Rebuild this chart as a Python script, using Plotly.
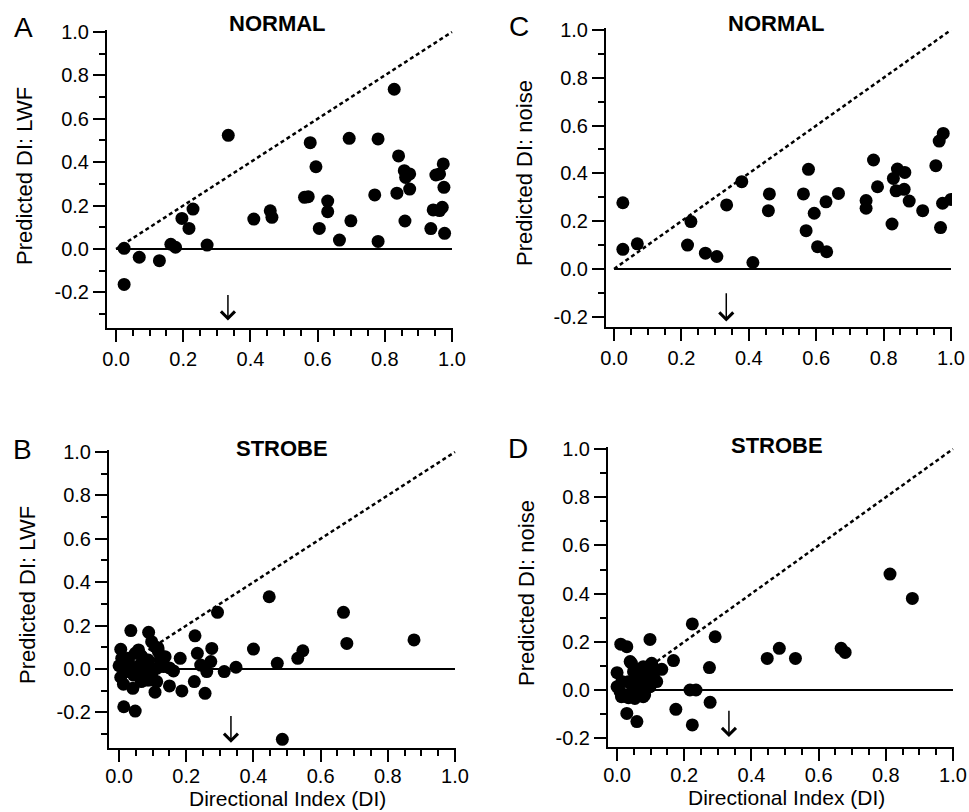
import plotly.graph_objects as go

# ---------------- data ----------------
# Panel A: NORMAL, Predicted DI: LWF
a_x = [0.024, 0.024, 0.069, 0.129, 0.163, 0.177, 0.196, 0.217, 0.229, 0.271, 0.334,
       0.410, 0.459, 0.464, 0.561, 0.572, 0.578, 0.595, 0.605, 0.630, 0.630, 0.665,
       0.694, 0.699, 0.770, 0.780, 0.780, 0.828, 0.836, 0.841, 0.858, 0.862, 0.874,
       0.874, 0.860, 0.937, 0.944, 0.952, 0.963, 0.974, 0.976, 0.971, 0.963, 0.978]
a_y = [0.003, -0.163, -0.038, -0.054, 0.022, 0.008, 0.141, 0.095, 0.184, 0.018, 0.524,
       0.138, 0.176, 0.146, 0.238, 0.241, 0.490, 0.379, 0.095, 0.221, 0.172, 0.041,
       0.510, 0.130, 0.249, 0.507, 0.035, 0.736, 0.257, 0.429, 0.361, 0.330, 0.346,
       0.276, 0.129, 0.094, 0.180, 0.341, 0.346, 0.392, 0.284, 0.192, 0.177, 0.072]

# Panel C: NORMAL, Predicted DI: noise
c_x = [0.026, 0.026, 0.069, 0.218, 0.228, 0.271, 0.305, 0.334, 0.379, 0.412, 0.461,
       0.458, 0.562, 0.570, 0.577, 0.594, 0.604, 0.631, 0.629, 0.666, 0.748, 0.748,
       0.770, 0.782, 0.825, 0.829, 0.837, 0.841, 0.861, 0.863, 0.876, 0.916, 0.955,
       0.965, 0.977, 0.969, 0.975, 1.000]
c_y = [0.277, 0.082, 0.105, 0.100, 0.198, 0.066, 0.052, 0.268, 0.365, 0.027, 0.314,
       0.244, 0.314, 0.160, 0.417, 0.233, 0.093, 0.072, 0.281, 0.316, 0.286, 0.254,
       0.456, 0.344, 0.188, 0.379, 0.327, 0.418, 0.333, 0.404, 0.284, 0.244, 0.432,
       0.535, 0.567, 0.173, 0.275, 0.291]

# Panel B: STROBE, Predicted DI: LWF
b_x = [0.035, 0.088, 0.005, 0.000, 0.014, 0.048, 0.041, 0.013, 0.005, 0.107, 0.150,
       0.187, 0.182, 0.162, 0.226, 0.233, 0.224, 0.256, 0.243, 0.261, 0.273, 0.276,
       0.293, 0.313, 0.348, 0.400, 0.447, 0.471, 0.486, 0.532, 0.547, 0.668, 0.678,
       0.878,
       0.048, 0.058, 0.068, 0.028, 0.038, 0.053, 0.062, 0.072, 0.082, 0.097, 0.087,
       0.097, 0.107, 0.117, 0.122, 0.137, 0.132, 0.112, 0.018, 0.043, 0.112, 0.008,
       0.102, 0.116, 0.131, 0.066, 0.076, 0.027, 0.027, 0.086, 0.091, 0.150]
b_y = [0.177, 0.169, 0.091, 0.015, -0.174, -0.194, -0.089, -0.070, -0.038, -0.107, -0.078,
       -0.101, 0.049, -0.009, 0.153, 0.072, -0.058, -0.112, 0.018, -0.012, 0.034, 0.095,
       0.261, -0.012, 0.008, 0.092, 0.333, 0.026, -0.324, 0.049, 0.084, 0.261, 0.118,
       0.134,
       0.072, 0.088, 0.057, 0.034, 0.003, -0.005, 0.018, -0.020, -0.051, -0.035, 0.041,
       0.126, 0.103, 0.080, 0.041, 0.057, 0.011, 0.003, 0.011, -0.028, -0.058, 0.049,
       -0.005, 0.097, 0.050, -0.058, -0.012, -0.012, 0.049, 0.034, -0.051, 0.005]

# Panel D: STROBE, Predicted DI: noise
d_x = [0.011, 0.029, 0.000, 0.000, 0.029, 0.059, 0.039, 0.098, 0.224, 0.292, 0.168,
       0.133, 0.275, 0.217, 0.235, 0.175, 0.277, 0.224, 0.447, 0.483, 0.531, 0.667,
       0.679, 0.8125, 0.879,
       0.009, 0.019, 0.034, 0.044, 0.054, 0.063, 0.068, 0.078, 0.083, 0.088, 0.093,
       0.103, 0.108, 0.118, 0.118, 0.049, 0.059, 0.068, 0.078, 0.073, 0.098, 0.014,
       0.043, 0.013, 0.053, 0.082, 0.102, 0.033]
d_y = [0.190, 0.180, 0.072, 0.014, -0.097, -0.131, 0.118, 0.210, 0.274, 0.221, 0.122,
       0.086, 0.093, 0.000, 0.000, -0.080, -0.051, -0.145, 0.131, 0.173, 0.131, 0.173,
       0.156, 0.481, 0.380,
       -0.007, -0.025, -0.032, -0.007, 0.014, 0.041, 0.014, -0.028, 0.055, 0.028, 0.076,
       0.111, 0.055, 0.035, 0.083, 0.076, 0.055, 0.083, 0.097, 0.021, 0.014, 0.035,
       0.111, -0.028, -0.035, -0.021, 0.104, 0.034]

# reference lines (zero line and unity line)
ref_x = [0.0, 1.0]
zero_y = [0.0, 0.0]
unity_y = [0.0, 1.0]

# arrow marking DI = 1/3 (head y, tail y) per panel
arrow_x = 0.333
arrow_head = {"A": -0.33, "C": -0.22, "B": -0.34, "D": -0.195}
arrow_tail = {"A": -0.205, "C": -0.095, "B": -0.21, "D": -0.08}

x_tickvals = [0.0, 0.2, 0.4, 0.6, 0.8, 1.0]
x_ticktext = ["0.0", "0.2", "0.4", "0.6", "0.8", "1.0"]
y_tickvals = [-0.2, 0.0, 0.2, 0.4, 0.6, 0.8, 1.0]
y_ticktext = ["-0.2", "0.0", "0.2", "0.4", "0.6", "0.8", "1.0"]

panel_titles = {"A": "NORMAL", "C": "NORMAL", "B": "STROBE", "D": "STROBE"}
y_titles = {"A": "Predicted DI: LWF", "C": "Predicted DI: noise",
            "B": "Predicted DI: LWF", "D": "Predicted DI: noise"}
x_title = "Directional Index (DI)"

# ---------------- figure ----------------
W, H = 969, 812
FONT = "Liberation Sans, Arial, Helvetica, sans-serif"

fig = go.Figure()

panels = [
    # key, axis suffix, data, x-domain px, y-domain px (top, bottom), xrange, yrange, label standoff
    ("A", "", a_x, a_y, (107, 453), (29.8, 328), [-0.027, 1.003], [-0.364, 1.01], 0),
    ("C", "2", c_x, c_y, (606, 952), (27.6, 327), [-0.024, 1.003], [-0.243, 1.01], 0),
    ("B", "3", b_x, b_y, (109, 456), (449.8, 748), [-0.030, 1.003], [-0.364, 1.01], -3),
    ("D", "4", d_x, d_y, (608, 954), (446.6, 747), [-0.027, 1.003], [-0.2365, 1.01], -3),
]

annotations = []
layout_axes = {}
for key, sfx, xs, ys, xd, yd, xr, yr, so in panels:
    xa = "x" + sfx
    ya = "y" + sfx
    fig.add_trace(go.Scatter(x=ref_x, y=zero_y, mode="lines",
                             line=dict(color="black", width=2),
                             xaxis=xa, yaxis=ya, showlegend=False, hoverinfo="skip"))
    fig.add_trace(go.Scatter(x=ref_x, y=unity_y, mode="lines",
                             line=dict(color="black", width=2.5, dash="4px,3px"),
                             xaxis=xa, yaxis=ya, showlegend=False, hoverinfo="skip"))
    fig.add_trace(go.Scatter(x=xs, y=ys, mode="markers",
                             marker=dict(color="black", size=13, line=dict(width=0)),
                             xaxis=xa, yaxis=ya, showlegend=False))

    layout_axes["xaxis" + sfx] = dict(
        domain=[xd[0] / W, xd[1] / W], range=xr, anchor=ya,
        showline=True, linecolor="black", linewidth=2,
        ticks="outside", ticklen=12, tickwidth=2, tickcolor="black",
        tickmode="array", tickvals=x_tickvals, ticktext=x_ticktext,
        minor=dict(ticks="outside", ticklen=6, tickwidth=2, tickcolor="black",
                   tickmode="linear", tick0=0, dtick=0.05),
        showgrid=False, zeroline=False, automargin=False,
        ticklabelstandoff=so,
        tickfont=dict(family=FONT, size=20, color="black"),
    )
    layout_axes["yaxis" + sfx] = dict(
        domain=[(H - yd[1]) / H, (H - yd[0]) / H], range=yr, anchor=xa,
        showline=True, linecolor="black", linewidth=2,
        ticks="outside", ticklen=12, tickwidth=2, tickcolor="black",
        tickmode="array", tickvals=y_tickvals, ticktext=y_ticktext,
        minor=dict(ticks="outside", ticklen=6, tickwidth=2, tickcolor="black",
                   tickmode="linear", tick0=0, dtick=0.1),
        showgrid=False, zeroline=False, automargin=False,
        tickfont=dict(family=FONT, size=20, color="black"),
    )

    annotations.append(dict(
        x=arrow_x, y=arrow_head[key], ax=arrow_x, ay=arrow_tail[key],
        xref=xa, yref=ya, axref=xa, ayref=ya, text="", showarrow=True,
        arrowhead=4, arrowsize=1.8, arrowwidth=1.5, arrowcolor="black"))

# text positions in pixels (centre)
letter_pos = {"A": (23, 28), "C": (519, 26), "B": (22, 449), "D": (518, 448)}
title_pos = {"A": (277, 24), "C": (776, 23), "B": (282, 448), "D": (777, 446)}
ytitle_pos = {"A": (25, 176), "C": (524, 173), "B": (27, 595), "D": (526, 593)}
xtitle_pos = [(287, 798), (786, 797)]

for key, (px, py) in letter_pos.items():
    annotations.append(dict(x=px / W, y=(H - py) / H, xref="paper", yref="paper",
                            text=key, showarrow=False, xanchor="center", yanchor="middle",
                            font=dict(family=FONT, size=28, color="black")))
for key, (px, py) in title_pos.items():
    annotations.append(dict(x=px / W, y=(H - py) / H, xref="paper", yref="paper",
                            text="<b>" + panel_titles[key] + "</b>", showarrow=False,
                            xanchor="center", yanchor="middle",
                            font=dict(family=FONT, size=22, color="black")))
for key, (px, py) in ytitle_pos.items():
    annotations.append(dict(x=px / W, y=(H - py) / H, xref="paper", yref="paper",
                            text=y_titles[key], showarrow=False, textangle=-90,
                            xanchor="center", yanchor="middle",
                            font=dict(family=FONT, size=22, color="black")))
for (px, py) in xtitle_pos:
    annotations.append(dict(x=px / W, y=(H - py) / H, xref="paper", yref="paper",
                            text=x_title, showarrow=False,
                            xanchor="center", yanchor="middle",
                            font=dict(family=FONT, size=21, color="black")))

fig.update_layout(
    width=W, height=H,
    margin=dict(l=0, r=0, t=0, b=0, pad=0),
    paper_bgcolor="white", plot_bgcolor="white",
    font=dict(family=FONT, color="black"),
    annotations=annotations,
    **layout_axes,
)

fig.write_html(
    "out.html",
    config={"displayModeBar": False},
    post_script="document.body.style.margin='0';document.body.style.overflow='hidden';",
)
